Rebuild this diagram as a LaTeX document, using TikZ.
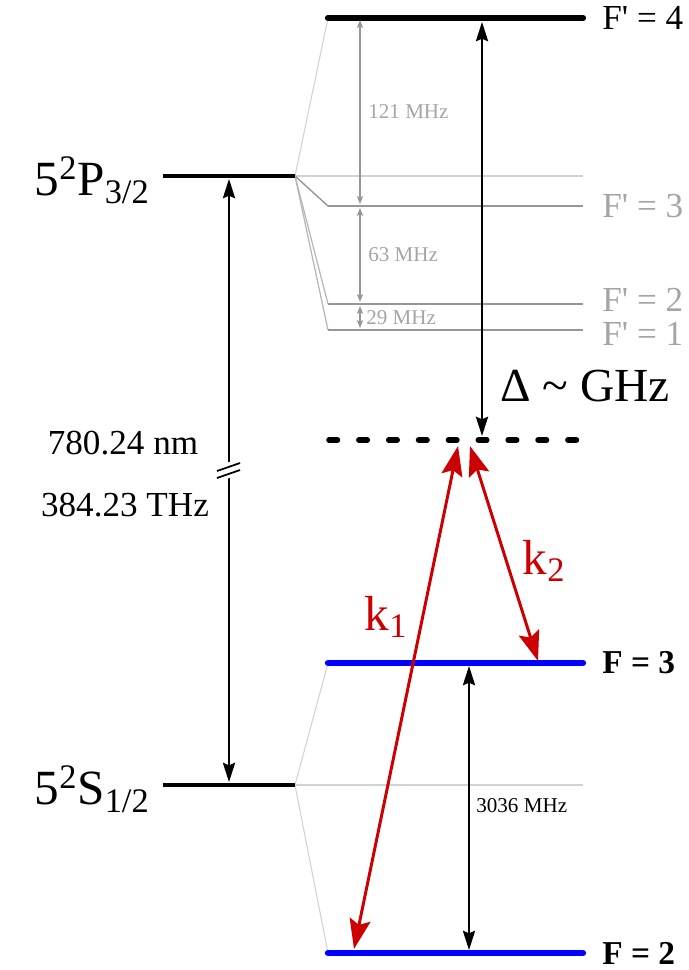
\documentclass[tikz,border=0pt]{standalone}
\usepackage{fontspec}
\setmainfont{Liberation Serif}
\usepackage{tikz}
\usetikzlibrary{positioning, arrows.meta, calc}
\definecolor{laserred}{RGB}{204,0,0}
\definecolor{hfsblue}{RGB}{0,0,255}
\definecolor{hfsgray}{RGB}{150,150,150}
\definecolor{fangray}{RGB}{210,210,210}
\definecolor{textgray}{RGB}{165,165,165}
\tikzset{
    finelevel/.style={line width=2.6pt},
    mainlevel/.style={line width=3.6pt, line cap=round},
    sublevel/.style={hfsgray, line width=1.6pt},
    fanline/.style={fangray, line width=0.6pt},
    splitarrow/.style={hfsgray, line width=0.6pt, {Stealth[length=4.5pt,width=3.5pt,inset=1pt]}-{Stealth[length=4.5pt,width=3.5pt,inset=1pt]}},
    gaparrow/.style={black, line width=1pt, {Stealth[length=11pt,width=7pt,inset=1.5pt]}-{Stealth[length=11pt,width=7pt,inset=1.5pt]}},
    beam/.style={laserred, line width=1.7pt, {Stealth[length=17pt,width=12pt,inset=3pt]}-{Stealth[length=17pt,width=12pt,inset=3pt]}},
    termlabel/.style={font=\fontsize{28}{32}\selectfont, inner sep=0pt},
    hfslabel/.style={font=\fontsize{20}{24}\selectfont, inner sep=0pt, anchor=west},
    splitlabel/.style={font=\fontsize{12}{14}\selectfont, inner sep=0pt, anchor=west},
}

\begin{document}
\begin{tikzpicture}[x=0.02cm, y=-0.02cm]
    \useasboundingbox (0,0) rectangle (689,970);

    % fine structure
    \coordinate (Pl) at (163,176);
    \coordinate (Pr) at (295,176);
    \coordinate (Sl) at (163,785);
    \coordinate (Sr) at (295,785);
    \node[termlabel, anchor=east] (Pname) at (150,180) {5\textsuperscript{2}P\textsubscript{3/2}};
    \node[termlabel, anchor=east] (Sname) at (150,789) {5\textsuperscript{2}S\textsubscript{1/2}};

    % hyperfine levels
    \foreach \name/\y in {F4/18, Fc/206, Fb/304, Fa/330, G3/663, G2/953} {
        \coordinate (\name l) at (328,\y);
        \coordinate (\name r) at (583,\y);
    }
    \coordinate (Dl) at (329,440);
    \coordinate (Dr) at (578,440);
    \coordinate (Pend) at (583,176);
    \coordinate (Send) at (583,785);

    \draw[fanline] (Pr) -- (Pend);
    \draw[fanline] (Sr) -- (Send);
    \draw[fanline] (Pr) -- (F4l);
    \draw[hfsgray, line width=0.8pt] (Pr) -- (Fcl);
    \draw[hfsgray!70, line width=0.7pt] (Pr) -- (Fbl);
    \draw[hfsgray!70, line width=0.7pt] (Pr) -- (Fal);
    \draw[fanline] (Sr) -- (G3l);
    \draw[fanline] (Sr) -- (G2l);

    \draw[sublevel] (Fcl) -- (Fcr);
    \draw[sublevel] (Fbl) -- (Fbr);
    \draw[sublevel] (Fal) -- (Far);
    \draw[mainlevel] (F4l) -- (F4r);
    \draw[mainlevel, hfsblue] (G3l) -- (G3r);
    \draw[mainlevel, hfsblue] (G2l) -- (G2r);
    \draw[line width=3.2pt, line cap=round, dash pattern=on 4.8pt off 12.2pt] (Dl) -- (Dr);
    \draw[finelevel] (Pl) -- (Pr);
    \draw[finelevel] (Sl) -- (Sr);

    \node[hfslabel, right=0.38cm of F4r] (labF4) {F\textquotesingle{} = 4};
    \node[hfslabel, textgray, right=0.38cm of Fcr] (labFc) {F\textquotesingle{} = 3};
    \node[hfslabel, textgray, right=0.38cm of Fbr, yshift=0.08cm] (labFb) {F\textquotesingle{} = 2};
    \node[hfslabel, textgray, right=0.38cm of Far, yshift=-0.08cm] (labFa) {F\textquotesingle{} = 1};
    \node[hfslabel, font=\fontsize{19}{22}\selectfont\bfseries, right=0.38cm of G3r] (labG3) {F = 3};
    \node[hfslabel, font=\fontsize{19}{22}\selectfont\bfseries, right=0.38cm of G2r] (labG2) {F = 2};

    % hyperfine splittings
    \coordinate (s4) at (360,20);
    \coordinate (s3) at (360,206);
    \coordinate (s2) at (360,304);
    \coordinate (s1) at (360,330);
    \draw[splitarrow] (s4) -- ([yshift=0.04cm]s3);
    \draw[splitarrow] ([yshift=-0.04cm]s3) -- ([yshift=0.04cm]s2);
    \draw[splitarrow] ([yshift=-0.04cm]s2) -- ([yshift=0.04cm]s1);
    \node[splitlabel, textgray] (lab121) at (368,112) {121 MHz};
    \node[splitlabel, textgray] (lab63) at (368,255) {63 MHz};
    \node[splitlabel, textgray] (lab29) at (366,318) {29 MHz};

    \coordinate (g3) at (469,666);
    \coordinate (g2) at (469,950);
    \draw[gaparrow] (g3) -- (g2);
    \node[splitlabel] (lab3036) at (476,806) {3036 MHz};

    % detuning
    \coordinate (dtop) at (482,22);
    \coordinate (dbot) at (482,436);
    \draw[gaparrow] (dtop) -- (dbot);
    \node[font=\fontsize{27}{30}\selectfont, inner sep=0pt] (labdet) at (585,386) {Δ \textasciitilde{} GHz};

    % optical transition
    \coordinate (opt1) at (229,179);
    \coordinate (opt2) at (229,782);
    \draw[gaparrow] (opt1) -- (opt2);
    \fill[white] (217,466) -- (241,458) -- (241,474) -- (217,482) -- cycle;
    \draw[line width=1pt] (217,471) -- (240,463);
    \draw[line width=1pt] (217,478) -- (240,470);
    \node[font=\fontsize{20}{24}\selectfont, inner sep=0pt] (labnm) at (123,443) {780.24 nm};
    \node[font=\fontsize{20}{24}\selectfont, inner sep=0pt] (labTHz) at (125,505) {384.23 THz};

    % Raman beams
    \coordinate (k1a) at (354,949);
    \coordinate (k1b) at (458,446);
    \coordinate (k2a) at (470,446);
    \coordinate (k2b) at (538,661);
    \draw[beam] (k1a) -- (k1b);
    \draw[beam] (k2a) -- (k2b);
    \node[laserred, font=\fontsize{28}{32}\selectfont, inner sep=0pt] (labk1) at (386,617) {k\textsubscript{1}};
    \node[laserred, font=\fontsize{28}{32}\selectfont, inner sep=0pt] (labk2) at (544,561) {k\textsubscript{2}};
\end{tikzpicture}
\end{document}
